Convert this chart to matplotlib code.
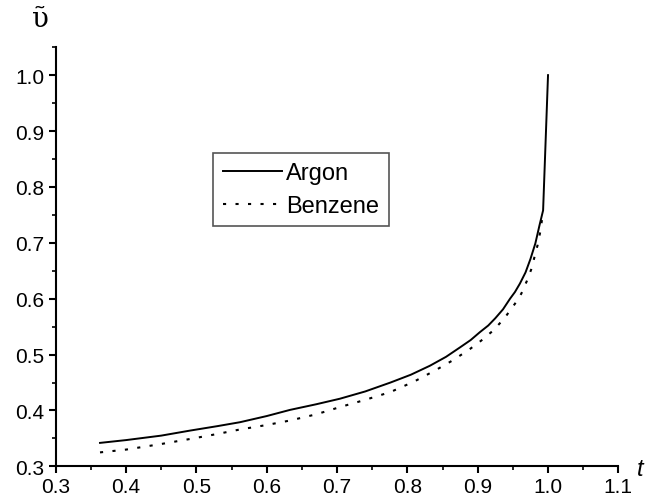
import matplotlib
matplotlib.use("Agg")
import matplotlib.pyplot as plt
from matplotlib.ticker import MultipleLocator

# values
argon_t = [0.363, 0.40, 0.45, 0.491, 0.53, 0.562, 0.60, 0.633, 0.67, 0.704,
           0.74, 0.776, 0.805, 0.832, 0.855, 0.875, 0.89, 0.903, 0.915, 0.925,
           0.936, 0.946, 0.953, 0.960, 0.968, 0.975, 0.982, 0.988, 0.993, 1.000]
argon_v = [0.342, 0.347, 0.355, 0.364, 0.372, 0.379, 0.390, 0.401, 0.411, 0.421,
           0.434, 0.450, 0.464, 0.480, 0.496, 0.513, 0.526, 0.540, 0.552, 0.565,
           0.581, 0.600, 0.612, 0.627, 0.647, 0.671, 0.699, 0.732, 0.758, 1.000]

benzene_t = [0.363, 0.40, 0.45, 0.491, 0.53, 0.562, 0.60, 0.633, 0.67, 0.704,
             0.74, 0.776, 0.81, 0.84, 0.865, 0.889, 0.905, 0.922, 0.938, 0.953,
             0.962, 0.970, 0.976, 0.980, 0.985, 0.989, 0.993]
benzene_v = [0.325, 0.330, 0.340, 0.349, 0.358, 0.366, 0.374, 0.382, 0.393, 0.406,
             0.419, 0.433, 0.452, 0.472, 0.490, 0.510, 0.525, 0.543, 0.565, 0.591,
             0.609, 0.632, 0.652, 0.671, 0.695, 0.720, 0.755]

x_ticks = [0.3, 0.4, 0.5, 0.6, 0.7, 0.8, 0.9, 1.0, 1.1]
y_ticks = [0.3, 0.4, 0.5, 0.6, 0.7, 0.8, 0.9, 1.0]

plt.rcParams["font.family"] = ["Liberation Sans", "DejaVu Sans"]

fig = plt.figure(figsize=(6.6, 5.02), dpi=100)
ax = fig.add_axes([0.0844, 0.069, 0.8525, 0.835])

ax.plot(argon_t, argon_v, color="black", linewidth=1.4, label="Argon")
ax.plot(benzene_t, benzene_v, color="black", linewidth=1.5,
        linestyle=(0, (1.5, 4.5)), label="Benzene")

ax.set_xlim(0.3, 1.1)
ax.set_ylim(0.3, 1.05)
ax.xaxis.set_minor_locator(MultipleLocator(0.05))
ax.yaxis.set_minor_locator(MultipleLocator(0.05))
ax.set_xticks(x_ticks)
ax.set_yticks(y_ticks)
ax.set_xticklabels([f"{v:.1f}" for v in x_ticks])
ax.set_yticklabels([f"{v:.1f}" for v in y_ticks])

ax.spines["top"].set_visible(False)
ax.spines["right"].set_visible(False)
ax.spines["left"].set_linewidth(1.5)
ax.spines["bottom"].set_linewidth(1.5)
ax.tick_params(which="major", direction="out", length=5, width=1.5,
               labelsize=15, pad=3)
ax.tick_params(which="minor", direction="out", length=3, width=1.2)

fig.text(0.061, 0.962, "\u1fe6", fontsize=20, family="DejaVu Serif",
         ha="center", va="center")
fig.text(0.970, 0.064, "t", fontsize=17, style="italic", ha="center", va="center")

leg = ax.legend(loc="upper left", bbox_to_anchor=(0.28, 0.748), borderaxespad=0,
                fontsize=17, fancybox=False, framealpha=1, handlelength=2.5,
                handletextpad=0.2, borderpad=0.4, labelspacing=0.45)
leg.get_frame().set_edgecolor("#555555")
leg.get_frame().set_linewidth(1.2)

fig.savefig("out.png", dpi=100)
